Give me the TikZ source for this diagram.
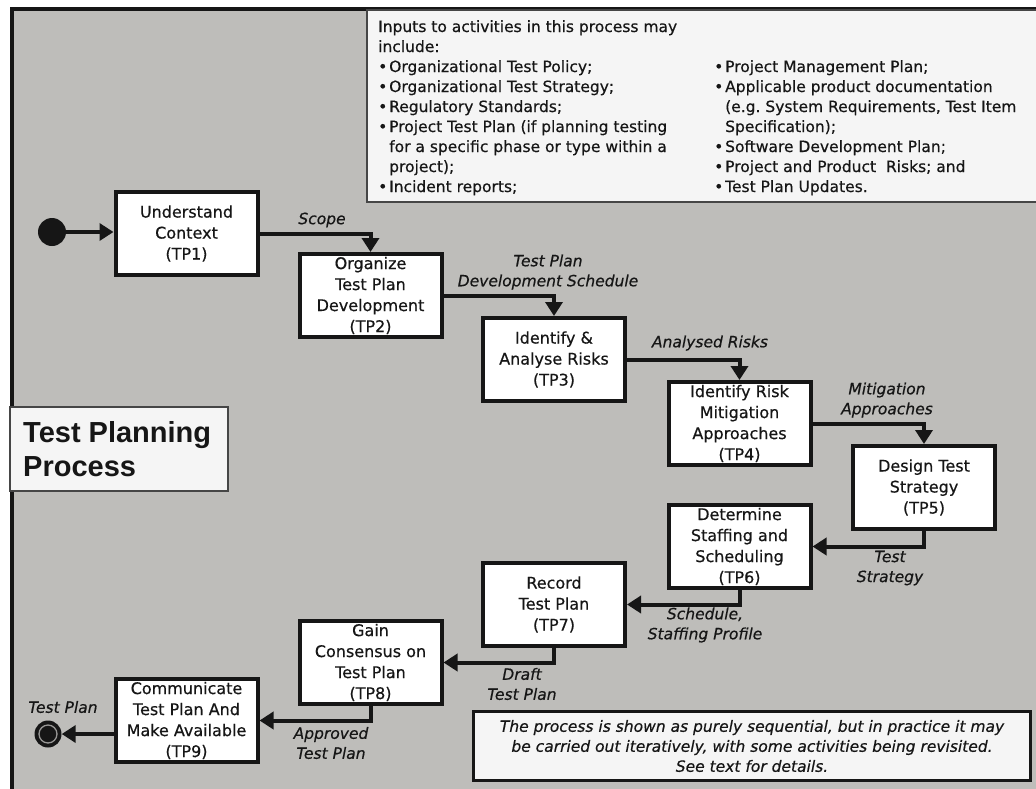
\documentclass[tikz,border=0pt]{standalone}
\usepackage{fontspec}
\setmainfont{DejaVu Sans}[ItalicFont={DejaVu Sans Oblique},BoldFont={DejaVu Sans Bold},
  UprightFeatures={FakeBold=0.5},ItalicFeatures={FakeBold=0.5}]
\newfontfamily\titlefont{Liberation Sans}
\usetikzlibrary{arrows.meta}
\definecolor{panel}{RGB}{190,189,186}
\definecolor{paper}{RGB}{245,245,245}
\definecolor{ink}{RGB}{22,22,22}
\definecolor{rim}{RGB}{70,70,70}
\newcommand\bul{\makebox[11pt][l]{•}}
\newcommand\ind{\hspace*{11pt}}
\frenchspacing
\tikzset{
  stepbox/.style={draw=ink, line width=4pt, fill=white, minimum width=142pt,
    minimum height=83pt, inner sep=0pt, align=center,
    font=\fontsize{16}{21}\selectfont, text=ink},
  flow/.style={draw=ink, line width=4pt, -{Triangle[length=14pt,width=17pt]}},
  lbl/.style={font=\fontsize{15.5}{20}\selectfont\itshape, align=center,
    inner sep=0pt, text=ink},
  inp/.style={anchor=base west, inner sep=0pt,
    font=\fontsize{15.5}{20}\selectfont, text=ink},
}
\begin{document}
\begin{tikzpicture}[x=1pt,y=-1pt]
\useasboundingbox (0,0) rectangle (1036,788);
% process frame
\fill[white] (0,0) rectangle (1036,788);
\filldraw[fill=panel, draw=ink, line width=3.5pt] (12,9) rectangle (1060,812);

% inputs panel
\filldraw[fill=paper, draw=rim, line width=1.5pt] (367,10) rectangle (1060,202);
\node[inp] (in1) at (378,32)  {Inputs to activities in this process may};
\node[inp] (in2) at (378,52)  {include:};
\node[inp] (in3) at (378,72)  {\bul Organizational Test Policy;};
\node[inp] (in4) at (378,92)  {\bul Organizational Test Strategy;};
\node[inp] (in5) at (378,112) {\bul Regulatory Standards;};
\node[inp] (in6) at (378,132) {\bul Project Test Plan (if planning testing};
\node[inp] (in7) at (378,152) {\ind for a specific phase or type within a};
\node[inp] (in8) at (378,172) {\ind project);};
\node[inp] (in9) at (378,192) {\bul Incident reports;};
\node[inp] (ir1) at (714,72)  {\bul Project Management Plan;};
\node[inp] (ir2) at (714,92)  {\bul Applicable product documentation};
\node[inp] (ir3) at (714,112) {\ind (e.g. System Requirements, Test Item};
\node[inp] (ir4) at (714,132) {\ind Specification);};
\node[inp] (ir5) at (714,152) {\bul Software Development Plan;};
\node[inp] (ir6) at (714,172) {\bul Project and Product\ \ Risks; and};
\node[inp] (ir7) at (714,192) {\bul Test Plan Updates.};

% process title
\filldraw[fill=paper, draw=rim, line width=1.5pt] (10,407) rectangle (228,491);
\node[anchor=west, align=left, inner sep=0pt, text=ink,
  font=\titlefont\bfseries\fontsize{29}{34}\selectfont] (title) at (23,449)
  {Test Planning\\Process};

% activities
\node[stepbox] (tp1) at (186.5,233.5) {Understand\\Context\\(TP1)};
\node[stepbox] (tp2) at (370.5,295.5) {Organize\\Test Plan\\Development\\(TP2)};
\node[stepbox] (tp3) at (554,359.5)   {Identify~\&\\Analyse Risks\\(TP3)};
\node[stepbox] (tp4) at (739.5,423.5) {Identify Risk\\Mitigation\\Approaches\\(TP4)};
\node[stepbox] (tp5) at (924,487.5)   {Design Test\\Strategy\\(TP5)};
\node[stepbox] (tp6) at (739.5,546.5) {Determine\\Staffing and\\Scheduling\\(TP6)};
\node[stepbox] (tp7) at (554,604.5)   {Record\\Test Plan\\(TP7)};
\node[stepbox] (tp8) at (370.5,662.5) {Gain\\Consensus on\\Test Plan\\(TP8)};
\node[stepbox] (tp9) at (186.5,720.5) {Communicate\\Test Plan And\\Make Available\\(TP9)};

% initial and final states
\node[circle, fill=ink, minimum size=28pt, inner sep=0pt] (start) at (52,232) {};
\node[circle, fill=ink, minimum size=27pt, inner sep=0pt] (finish) at (48,734) {};
\draw[draw=panel!80!black, line width=1.3pt] (finish.center) circle[radius=9pt];

% flows
\draw[flow] (start) -- (tp1.west |- start);
\draw[flow] (tp1.east) -| (tp2.north);
\draw[flow] (tp2.east) -| (tp3.north);
\draw[flow] (tp3.east) -| (tp4.north);
\draw[flow] (tp4.east) -| (tp5.north);
\draw[flow] (tp5.south) |- (tp6.east);
\draw[flow] (tp6.south) |- (tp7.east);
\draw[flow] (tp7.south) |- (tp8.east);
\draw[flow] (tp8.south) |- (tp9.east);
\draw[flow] (tp9.west |- finish) -- (finish);

% flow labels
\node[lbl] (lscope) at (322,220) {Scope};
\node[lbl] (ldev)   at (548,272) {Test Plan\\Development Schedule};
\node[lbl] (lrisk)  at (710,343) {Analysed Risks};
\node[lbl] (lmit)   at (887,400) {Mitigation\\Approaches};
\node[lbl] (lstrat) at (890,568) {Test\\Strategy};
\node[lbl] (lsched) at (705,625) {Schedule,\\Staffing Profile};
\node[lbl] (ldraft) at (522,684) {Draft\\Test Plan};
\node[lbl] (lappr)  at (331,743) {Approved\\Test Plan};
\node[lbl] (lout)   at (63,707)  {Test Plan};

% note
\node[draw=ink, line width=3pt, fill=paper, minimum width=557pt, minimum height=69pt,
  inner sep=0pt, align=center, text=ink, font=\fontsize{15.5}{20}\selectfont\itshape]
  (note) at (752,746)
  {The process is shown as purely sequential, but in practice it may\\
   be carried out iteratively, with some activities being revisited.\\
   See text for details.};
\end{tikzpicture}
\end{document}
